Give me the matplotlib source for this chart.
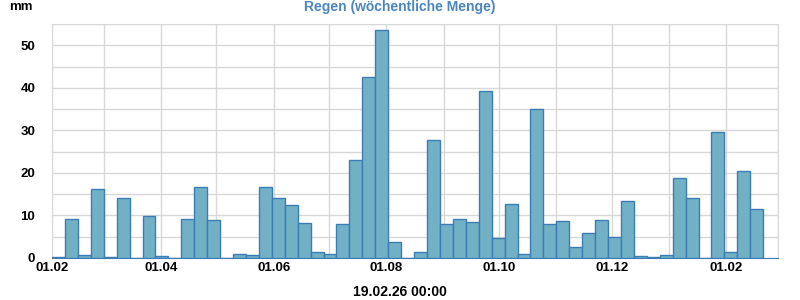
import matplotlib
matplotlib.use("Agg")
from matplotlib import pyplot as plt
import matplotlib.dates as mdates
import numpy as np
import datetime as dt

# weekly rain totals (mm), weeks starting 01.02.2025
start = dt.date(2025, 2, 1)
rain = [0.25, 9.2, 0.7, 16.2, 0.25, 14.1, 0.0, 9.9, 0.5, 0.0,
        9.2, 16.7, 8.9, 0.0, 0.95, 0.7, 16.7, 14.1, 12.4, 8.2,
        1.4, 0.9, 8.0, 23.0, 42.5, 53.5, 3.8, 0.0, 1.4, 27.7,
        8.0, 9.15, 8.45, 39.2, 4.7, 12.7, 0.9, 35.0, 8.0, 8.7,
        2.6, 5.9, 8.9, 4.9, 13.4, 0.5, 0.25, 0.7, 18.8, 14.1,
        0.0, 29.6, 1.4, 20.4, 11.5]
weeks = [start + dt.timedelta(days=7 * i) for i in range(len(rain))]

title = "Regen (wöchentliche Menge)"
unit = "mm"
now_label = "19.02.26 00:00"
x_end = dt.date(2026, 3, 1)

plt.rcParams['font.family'] = ['Liberation Sans', 'DejaVu Sans']

fig = plt.figure(figsize=(8, 3), dpi=100)
ax = fig.add_axes([0.065, 0.14, 0.9075, 0.78])

ax.bar(weeks, rain, width=7, align="edge", color="#72b1c5",
       edgecolor="#3d7db5", linewidth=1.0, zorder=3)

ax.set_xlim(start, x_end)
ax.set_ylim(0, 55)

ax.xaxis.set_major_locator(mdates.MonthLocator(bymonth=[2, 4, 6, 8, 10, 12]))
ax.xaxis.set_minor_locator(mdates.MonthLocator())
ax.xaxis.set_major_formatter(mdates.DateFormatter("%d.%m"))
ax.set_yticks(range(0, 51, 10))
ax.set_yticks(range(5, 56, 10), minor=True)

ax.grid(which="both", color="#d8d8d8", linewidth=1.0, zorder=0)
ax.tick_params(which="both", length=0)
ax.tick_params(axis="x", pad=3, labelsize=9.5)
ax.tick_params(axis="y", pad=12, labelsize=9.5)
for lab in ax.get_xticklabels() + ax.get_yticklabels():
    lab.set_fontweight("bold")
for s in ax.spines.values():
    s.set_color("#d8d8d8")
ax.spines["bottom"].set_color("#3d7db5")

fig.text(0.5, 0.975, title, ha="center", va="center", color="#4a86bd",
         fontsize=10, fontweight="bold")
fig.text(0.012, 0.975, unit, ha="left", va="center", fontsize=9.5,
         fontweight="bold")
fig.text(0.5, 0.027, now_label, ha="center", va="center", fontsize=10,
         fontweight="bold")

fig.savefig("out.png", dpi=100)
